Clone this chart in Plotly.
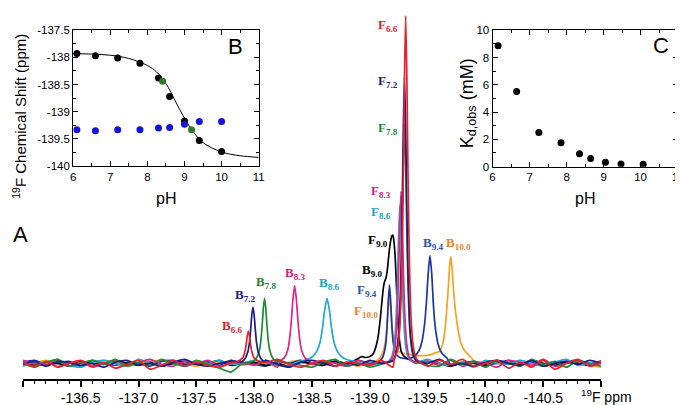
import plotly.graph_objects as go

W, H = 683, 405

# ---------------- Main spectrum data (ppm, intensity above baseline) ----------------
grid_ppm = [round(-136.0 - 0.1 * i, 2) for i in range(51)]

noise = {
    "6.6": [1,-3,2,-4,0,3,-3,1,-5,-1,3,-6,-2,3,-3,1,-2,-4,2,0,-3,1,4,-1,-4,0,3,-3,1,0,-2,3,-4,1,0,-3,3,-1,4,-3,0,3,-5,1,-4,3,-6,0,4,-3,1],
    "7.2": [-1,2,-3,2,1,-2,0,-4,1,3,-2,0,-3,1,4,-1,-3,0,2,-1,0,3,-1,-4,1,3,0,-3,1,-2,3,0,-1,1,-3,0,4,-2,0,-3,1,3,0,-2,3,-3,0,2,-1,3,0],
    "7.8": [0,-4,1,4,-3,0,3,-1,4,-3,1,-2,4,0,-3,3,-1,-5,-9,0,1,-3,3,0,-2,-4,1,4,-3,0,-4,-1,3,0,1,-2,-3,4,-1,2,-4,3,0,-3,4,-1,2,-4,3,0,-3],
    "8.3": [3,0,-2,4,-3,1,-4,0,3,-2,1,4,-1,-3,2,0,3,-3,0,1,-2,3,-4,0,3,-1,2,0,-3,3,-1,1,4,-3,0,2,-2,3,-3,1,0,-4,3,1,-2,4,-3,0,2,-1,3],
    "8.6": [-3,1,0,3,-2,-4,1,3,0,-3,4,0,-2,3,-3,1,0,3,-1,0,3,1,-2,-3,0,2,-1,0,3,1,-2,0,3,-3,1,4,0,-2,1,-4,3,0,-1,3,0,-3,1,4,-2,0,1],
    "9.0": [0,-2,1,0,-3,2,0,-1,3,0,-2,1,-3,0,2,-1,0,3,-2,0,1,-2,0,-3,1,0,-2,2,0,-1,3,1,-2,0,-1,2,0,-3,1,0,-2,2,0,-1,3,0,-2,1,0,-2,1],
    "9.4": [1,3,-1,0,2,-3,3,0,-2,1,0,-3,2,3,-1,0,2,-2,3,0,-1,-3,2,0,3,-1,0,2,-2,3,0,-1,2,0,-3,1,3,-2,0,2,-1,0,3,-2,1,-3,0,2,3,-1,0],
    "10.0": [-2,0,3,-3,1,0,-2,3,1,-3,0,2,3,-1,0,-3,1,0,3,-2,1,0,-3,1,3,0,-2,1,0,-3,2,3,0,-2,1,0,3,-2,4,1,-3,2,0,3,-2,4,-3,1,0,-2,-4],
}

# peak segments: list of (ppm list, intensity list)
peaks = {
    "6.6": [
        ([-137.80,-137.85,-137.90,-137.92,-137.93,-137.94,-137.95,-137.96,-137.97,-137.98,-138.00,-138.05,-138.10],
         [0.7,1.6,5.6,12,18.5,27.7,33,27.7,18.5,12,5.6,1.6,0.7]),
        ([-139.21,-139.24,-139.26,-139.27,-139.28,-139.29,-139.30,-139.31,-139.32,-139.33,-139.34,-139.35,-139.36,-139.38,-139.41],
         [3.6,14,39,68,118,197,297,358,297,197,118,68,39,14,3.6]),
    ],
    "7.2": [
        ([-137.89,-137.92,-137.945,-137.96,-137.97,-137.98,-137.99,-138.00,-138.01,-138.02,-138.035,-138.06,-138.09],
         [1.7,4.6,11.6,22,35,50,58,50,35,22,11.6,4.6,1.7]),
        ([-139.20,-139.23,-139.25,-139.26,-139.27,-139.28,-139.29,-139.30,-139.31,-139.32,-139.33,-139.34,-139.35,-139.37,-139.40],
         [3,12,32,56,97,162,245,295,245,162,97,56,32,12,3]),
    ],
    "7.8": [
        ([-137.99,-138.02,-138.045,-138.06,-138.07,-138.08,-138.09,-138.10,-138.11,-138.12,-138.135,-138.16,-138.19],
         [2,5.4,13.4,25.5,40,57.6,67,57.6,40,25.5,13.4,5.4,2]),
        ([-139.20,-139.23,-139.25,-139.26,-139.27,-139.28,-139.29,-139.30,-139.31,-139.32,-139.33,-139.34,-139.35,-139.37,-139.40],
         [2.5,10,27,47,81,136,205,247,205,136,81,47,27,10,2.5]),
    ],
    "8.3": [
        ([-138.22,-138.26,-138.29,-138.305,-138.32,-138.335,-138.35,-138.365,-138.38,-138.395,-138.41,-138.44,-138.48],
         [2,5.6,13.6,24,41.6,65.6,80,65.6,41.6,24,13.6,5.6,2]),
        ([-139.17,-139.20,-139.22,-139.23,-139.24,-139.25,-139.26,-139.27,-139.28,-139.29,-139.30,-139.31,-139.32,-139.34,-139.37],
         [2,7,19,34,58,97,147,177,147,97,58,34,19,7,2]),
    ],
    "8.6": [
        ([-138.39,-138.46,-138.51,-138.545,-138.57,-138.59,-138.61,-138.63,-138.65,-138.67,-138.69,-138.715,-138.75,-138.80,-138.87],
         [2,3.9,7.4,13.4,22,35.5,55,67,55,35.5,22,13.4,7.4,3.9,2]),
        ([-139.16,-139.19,-139.21,-139.22,-139.23,-139.24,-139.25,-139.26,-139.27,-139.28,-139.29,-139.30,-139.31,-139.33,-139.36],
         [2,7,18,31,54,90,135,163,135,90,54,31,18,7,2]),
    ],
    "9.0": [
        ([-138.85,-138.90,-138.93,-138.96,-139.00,-139.03,-139.05,-139.07,-139.09,-139.11,-139.12,-139.13,-139.14,-139.15,-139.16,
          -139.17,-139.18,-139.19,-139.20,-139.21,-139.22,-139.23,-139.24,-139.25,-139.26,-139.27,-139.29,-139.32,-139.36,-139.40],
         [2,5,7,6,7,10,16,26,45,70,80,85,88,95,106,118,126,131,132,124,108,80,52,32,20,13,8,5,3,1]),
    ],
    "9.4": [
        ([-139.08,-139.11,-139.13,-139.14,-139.15,-139.16,-139.17,-139.18,-139.19,-139.20,-139.21,-139.23,-139.26,-139.30,-139.34,
          -139.37,-139.42,-139.45,-139.475,-139.49,-139.505,-139.52,-139.535,-139.55,-139.565,-139.59,-139.62,-139.67],
         [2,6,14,22,40,65,81,65,40,24,16,9,6,5,5,6,12,22,42,64,93,111,93,60,38,20,11,5]),
    ],
    "10.0": [
        ([-139.05,-139.09,-139.12,-139.14,-139.15,-139.16,-139.17,-139.18,-139.19,-139.20,-139.22,-139.25,-139.30,-139.36,-139.42,
          -139.48,-139.53,-139.57,-139.60,-139.63,-139.65,-139.665,-139.68,-139.69,-139.70,-139.71,-139.72,-139.735,-139.75,-139.77,
          -139.79,-139.82,-139.86,-139.90],
         [2,6,14,27,40,57,68,58,42,30,18,12,10,9,8,8,9,11,12,20,35,55,80,100,110,100,82,60,45,30,20,13,8,3]),
    ],
}

colors = {
    "6.6": "#e8202a", "7.2": "#1c1c86", "7.8": "#1b8c32", "8.3": "#e0248c",
    "8.6": "#22a8cc", "9.0": "#000000", "9.4": "#1a36a2", "10.0": "#f5a21f",
}
label_colors = {
    "6.6": "#e8202a", "7.2": "#23237c", "7.8": "#1f8a3a", "8.3": "#d62280",
    "8.6": "#20a2c8", "9.0": "#000000", "9.4": "#2a5aa8", "10.0": "#ee8230",
}

# ---------------- Inset B data ----------------
pH_B = [6.1, 6.6, 7.2, 7.8, 8.3, 8.6, 9.0, 9.4, 10.0]
shift_bound = [-137.93, -137.97, -138.01, -138.11, -138.38, -138.72, -139.17, -139.53, -139.73]
shift_free = [-139.33, -139.35, -139.33, -139.33, -139.30, -139.29, -139.23, -139.18, -139.18]
pH_green = [8.41, 9.19]
shift_green = [-138.44, -139.33]
fit_pH = [6.0, 6.5, 7.0, 7.5, 8.0, 8.25, 8.5, 8.75, 9.0, 9.25, 9.5, 10.0, 10.5, 11.0]
fit_shift = [-137.93, -137.94, -137.96, -138.02, -138.15, -138.27, -138.48, -138.80, -139.12, -139.38, -139.57, -139.74, -139.81, -139.84]

# ---------------- Inset C data ----------------
pH_C = [6.15, 6.65, 7.25, 7.85, 8.35, 8.65, 9.05, 9.47, 10.07]
Kd_obs = [8.86, 5.5, 2.51, 1.75, 0.95, 0.59, 0.33, 0.19, 0.17]

fig = go.Figure()

order = ["10.0", "9.4", "9.0", "8.6", "8.3", "7.8", "7.2", "6.6"]
for key in order:
    segs = peaks[key]
    pts = []
    for p, v in zip(grid_ppm, noise[key]):
        inside = any(min(s[0]) - 0.005 <= p <= max(s[0]) + 0.005 for s in segs)
        if not inside:
            pts.append((p, v))
    for s in segs:
        pts.extend(zip(s[0], s[1]))
    pts.sort(key=lambda t: -t[0])
    fig.add_trace(go.Scatter(
        x=[t[0] for t in pts], y=[t[1] for t in pts], mode="lines",
        line=dict(color=colors[key], width=1.7, shape="spline", smoothing=0.6),
        xaxis="x", yaxis="y", showlegend=False, hoverinfo="skip"))

# inset B
fig.add_trace(go.Scatter(x=fit_pH, y=fit_shift, mode="lines",
                         line=dict(color="black", width=1, shape="spline"),
                         xaxis="x2", yaxis="y2", showlegend=False))
fig.add_trace(go.Scatter(x=pH_B, y=shift_bound, mode="markers",
                         marker=dict(color="black", size=7), xaxis="x2", yaxis="y2", showlegend=False))
fig.add_trace(go.Scatter(x=pH_B, y=shift_free, mode="markers",
                         marker=dict(color="#1414d8", size=7), xaxis="x2", yaxis="y2", showlegend=False))
fig.add_trace(go.Scatter(x=pH_green, y=shift_green, mode="markers",
                         marker=dict(color="#2a7a2a", size=7), xaxis="x2", yaxis="y2", showlegend=False))
# inset C
fig.add_trace(go.Scatter(x=pH_C, y=Kd_obs, mode="markers",
                         marker=dict(color="black", size=7), xaxis="x3", yaxis="y3", showlegend=False))

def px(x):
    return x / W

def py(y):
    return 1 - y / H

FONT = "Liberation Sans, Arial, sans-serif"
SERIF = "Liberation Serif, Times New Roman, serif"

main_ticks = [-136.0 - 0.5 * i for i in range(11)]
main_text = ["" if i in (0, 10) else "%.1f" % v for i, v in enumerate(main_ticks)]

inset_axis = dict(showline=True, linecolor="black", linewidth=1, mirror="ticks",
                  ticks="inside", ticklen=5, tickwidth=1, tickcolor="black",
                  showgrid=False, zeroline=False,
                  tickfont=dict(family=FONT, size=11.5, color="black"))

fig.update_layout(
    width=W, height=H, margin=dict(l=0, r=0, t=0, b=0),
    paper_bgcolor="white", plot_bgcolor="rgba(0,0,0,0)",
    xaxis=dict(domain=[px(12), px(598)], range=[-136.0, -141.0], anchor="y",
               showline=True, linecolor="black", linewidth=1.5,
               ticks="outside", ticklen=6, tickwidth=1.5, tickcolor="black",
               tickvals=main_ticks, ticktext=main_text, ticklabelstandoff=0,
               minor=dict(ticks="outside", ticklen=3, dtick=0.1, tick0=-136.0, tickcolor="black", tickwidth=1),
               showgrid=False, zeroline=False,
               tickfont=dict(family=FONT, size=14, color="black")),
    yaxis=dict(domain=[29 / H, 1], range=[-16, 360], visible=False, anchor="x"),
    xaxis2=dict(domain=[px(63), px(251)], range=[6, 11], anchor="y2",
                tickvals=[6, 7, 8, 9, 10, 11],
                minor=dict(ticks="inside", ticklen=3, dtick=0.5, tick0=6, tickcolor="black"),
                **inset_axis),
    yaxis2=dict(domain=[py(156.7), py(16.7)], range=[-140, -137.5], anchor="x2",
                tickvals=[-137.5, -138, -138.5, -139, -139.5, -140],
                ticktext=["-137.5", "-138", "-138.5", "-139", "-139.5", "-140"],
                minor=dict(ticks="inside", ticklen=3, dtick=0.25, tick0=-140, tickcolor="black"),
                **inset_axis),
    xaxis3=dict(domain=[px(488), px(675.5)], range=[6, 11], anchor="y3",
                tickvals=[6, 7, 8, 9, 10, 11],
                minor=dict(ticks="inside", ticklen=3, dtick=0.5, tick0=6, tickcolor="black"),
                **inset_axis),
    yaxis3=dict(domain=[py(157.3), py(16.7)], range=[0, 10], anchor="x3",
                tickvals=[0, 2, 4, 6, 8, 10],
                minor=dict(ticks="inside", ticklen=3, dtick=1, tick0=0, tickcolor="black"),
                **inset_axis),
)

ann = []
def add_text(text, x, y, size, color="black", family=FONT, angle=0, xanchor="center"):
    ann.append(dict(text=text, x=px(x), y=py(y), xref="paper", yref="paper",
                    showarrow=False, xanchor=xanchor, yanchor="middle", textangle=angle,
                    font=dict(family=family, size=size, color=color)))

# axis titles / panel letters
add_text("<sup>19</sup>F ppm", 576, 394, 14, xanchor="left")
add_text("A", 10, 227, 22)
add_text("B", 227, 33, 22)
add_text("C", 659, 32, 22)
add_text("pH", 157, 190, 16)
add_text("pH", 582, 190, 16)
add_text("<sup>19</sup>F Chemical Shift (ppm)", 9, 105, 15, angle=-90)
add_text("K<sub>d,obs</sub> (mM)", 463, 92, 18, angle=-90)

# peak labels
labels = [
    ("F", "6.6", 382, 12), ("F", "7.2", 382, 70), ("F", "7.8", 382, 118),
    ("F", "8.3", 375, 183), ("F", "8.6", 375, 205), ("F", "9.0", 372, 233),
    ("B", "9.4", 428, 237), ("B", "10.0", 453, 237),
    ("B", "6.6", 224, 322), ("B", "7.2", 237, 290), ("B", "7.8", 258, 277),
    ("B", "8.3", 288, 267), ("B", "8.6", 322, 278), ("B", "9.0", 366, 264),
    ("F", "9.4", 361, 285), ("F", "10.0", 360, 307),
]
for letter, key, x, y in labels:
    add_text("<b>%s<sub>%s</sub></b>" % (letter, key), x, y, 13,
             color=label_colors[key], family=SERIF)

fig.update_layout(annotations=ann)
fig.write_html("out.html")
